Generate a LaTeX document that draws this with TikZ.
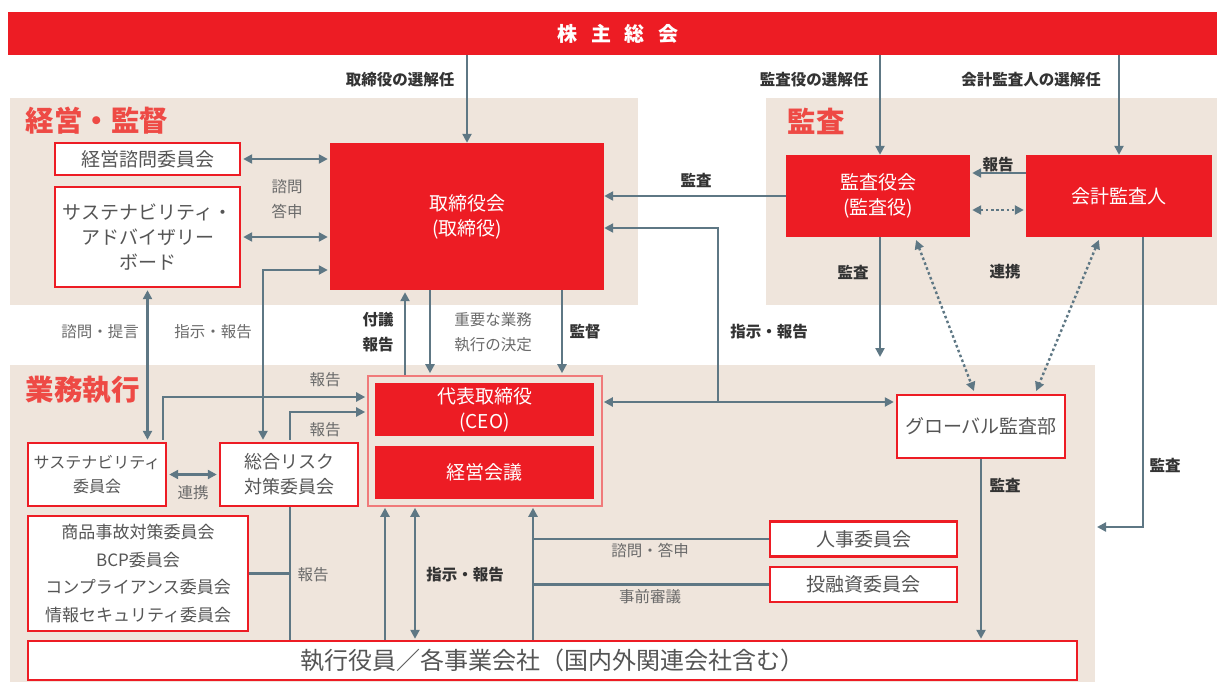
\documentclass[tikz,border=0pt]{standalone}
\usepackage{fontspec}
\newfontfamily\jp{Noto Sans CJK JP}
\usetikzlibrary{arrows.meta}
\definecolor{jred}{HTML}{ED1C24}
\definecolor{jtitle}{HTML}{EE4A45}
\definecolor{panelc}{HTML}{EFE5DC}
\definecolor{linec}{HTML}{5E7784}
\definecolor{txtgray}{HTML}{555555}
\definecolor{lblgray}{HTML}{6A6A6A}
\definecolor{lbldark}{HTML}{333333}
\definecolor{groupc}{HTML}{F07A7A}
\tikzset{
  box/.style={draw=jred, line width=2.4pt, fill=white, inner sep=0pt, align=center,
    text=txtgray, font=\jp\fontsize{19}{25}\selectfont},
  redbox/.style={fill=jred, inner sep=0pt, align=center, text=white,
    font=\jp\fontsize{19}{25}\selectfont},
  paneltitle/.style={anchor=west, text=jtitle, font=\jp\bfseries\fontsize{28.5}{30}\selectfont},
  lbl/.style={text=lblgray, align=center, font=\jp\fontsize{15.5}{25}\selectfont},
  lblb/.style={text=lbldark, align=center, font=\jp\bfseries\fontsize{15.5}{25}\selectfont},
  conn/.style={draw=linec, line width=2.4pt},
  arr/.style={conn, -{Triangle[length=9pt,width=9pt]}},
  biarr/.style={conn, {Triangle[length=9pt,width=9pt]}-{Triangle[length=9pt,width=9pt]}},
  dotarr/.style={biarr, dash pattern=on 2.6pt off 2.6pt}
}
\begin{document}
\begin{tikzpicture}[x=1pt, y=-1pt, line join=miter]
\useasboundingbox (0,0) rectangle (1217,682);
% panels
\fill[panelc] (10,98) rectangle (638,305);
\fill[panelc] (766,98) rectangle (1217,305);
\fill[panelc] (10,365) rectangle (1095,682);
\node[paneltitle] (t1) at (22,121) {経営・監督};
\node[paneltitle] (t2) at (784,121) {監査};
\node[paneltitle] (t3) at (22,390) {業務執行};

% general meeting
\node[redbox, minimum width=1209pt, minimum height=43pt] (gm) at (612.5,33.5) {};
\node[text=white, inner sep=0pt, font=\jp\bfseries\fontsize{20}{25}\selectfont]
  (gmtext) at (618,33.5) {株\hspace{13.5pt}主\hspace{13.5pt}総\hspace{13.5pt}会};

% boxes
\node[box, minimum width=185pt, minimum height=32pt] (adv) at (147.5,159) {経営諮問委員会};
\node[box, minimum width=185pt, minimum height=100pt] (sab) at (147.5,237) {サステナビリティ・\\アドバイザリー\\ボード};
\node[redbox, minimum width=274pt, minimum height=147pt] (board) at (467,216.5) {取締役会\\(取締役)};
\node[redbox, minimum width=184pt, minimum height=82pt] (kansa) at (878,196) {監査役会\\(監査役)};
\node[redbox, minimum width=186pt, minimum height=82pt] (kaikei) at (1119,196) {会計監査人};
\node[draw=groupc, line width=1.6pt, fill=panelc, minimum width=234pt, minimum height=130pt] (execbox) at (485,441) {};
\node[redbox, minimum width=219pt, minimum height=53pt] (ceo) at (484.5,409.5) {代表取締役\\(CEO)};
\node[redbox, minimum width=219pt, minimum height=53pt] (keiei) at (484.5,472.5) {経営会議};
\node[box, minimum width=168pt, minimum height=63pt] (gaudit) at (981,426.5) {グローバル監査部};
\node[box, minimum width=138pt, minimum height=63pt, font=\jp\fontsize{16}{24}\selectfont] (sc) at (97,474.5) {サステナビリティ\\委員会};
\node[box, minimum width=138pt, minimum height=63pt, font=\jp\fontsize{18}{25}\selectfont] (risk) at (289,474.5) {総合リスク\\対策委員会};
\node[box, minimum width=220pt, minimum height=115pt, font=\jp\fontsize{17}{27.7}\selectfont] (misc) at (138,573.5) {商品事故対策委員会\\BCP委員会\\コンプライアンス委員会\\情報セキュリティ委員会};
\node[box, minimum width=187pt, minimum height=35pt] (hr) at (863.5,539) {人事委員会};
\node[box, minimum width=187pt, minimum height=35pt] (inv) at (863.5,584.5) {投融資委員会};
\node[box, minimum width=1049pt, minimum height=39pt, font=\jp\fontsize{24}{25}\selectfont] (officers) at (552.5,660.5) {執行役員／各事業会社（国内外関連会社含む）};

% turning points and columns
\coordinate (rk) at (263,270);
\coordinate (sr) at (163,397);
\coordinate (rr) at (290,412);
\coordinate (c385) at (385,0);
\coordinate (c405) at (405,0);
\coordinate (c415) at (415,0);
\coordinate (c430) at (430,0);
\coordinate (c533) at (533,0);
\coordinate (c562) at (562,0);
\coordinate (ja) at (718,228);
\coordinate (jb) at (718,402);
\coordinate (kk) at (0,173);
\coordinate (kd) at (0,210);
\coordinate (ke) at (880,357);
\coordinate (d1) at (915,0);
\coordinate (d2) at (975,0);
\coordinate (d3) at (1100,0);
\coordinate (d4) at (1035,0);
\coordinate (ka) at (1143,527);
\coordinate (kb) at (1097,527);

% connectors
\draw[arr] (gm.south -| board.north) -- (board.north);
\draw[arr] (gm.south -| ke) -- (kansa.north -| ke);
\draw[arr] (gm.south -| kaikei.north) -- (kaikei.north);
\draw[biarr, shorten <=2pt, shorten >=2pt] (adv.east) -- (adv.east -| board.west);
\draw[biarr, shorten <=2pt, shorten >=2pt] (sab.east) -- (sab.east -| board.west);
\draw[biarr, shorten <=2pt, shorten >=2pt] (risk.north -| rk) -- (rk) -- (rk -| board.west);
\draw[biarr, shorten <=2pt, shorten >=2pt] (sab.south) -- (sab.south |- sc.north);
\draw[biarr, shorten <=2pt, shorten >=2pt] (sc.east) -- (risk.west);
\draw[arr, shorten <=2pt, shorten >=2pt] (sc.north -| sr) -- (sr) -- (sr -| execbox.west);
\draw[arr, shorten <=2pt, shorten >=2pt] (risk.north -| rr) -- (rr) -- (rr -| execbox.west);
\draw[conn] (misc.east) -- (misc.east -| rr);
\draw[conn] (risk.south -| rr) -- (officers.north -| rr);
\draw[arr, shorten >=2pt] (execbox.north -| c405) -- (board.south -| c405);
\draw[arr, shorten >=2pt] (board.south -| c430) -- (execbox.north -| c430);
\draw[arr, shorten >=2pt] (board.south -| c562) -- (execbox.north -| c562);
\draw[arr] (kansa.west) -- (kansa.west -| board.east);
\draw[biarr, shorten <=1pt, shorten >=2pt] (jb -| execbox.east) -- (jb -| gaudit.west);
\draw[arr] (jb) -- (ja) -- (ja -| board.east);
\draw[arr, shorten >=2pt] (kaikei.west |- kk) -- (kansa.east |- kk);
\draw[dotarr, shorten <=2pt, shorten >=2pt] (kansa.east |- kd) -- (kaikei.west |- kd);
\draw[arr] (kansa.south -| ke) -- (ke);
\draw[dotarr, shorten <=3pt, shorten >=3pt] (kansa.south -| d1) -- (gaudit.north -| d2);
\draw[dotarr, shorten <=3pt, shorten >=3pt] (kaikei.south -| d3) -- (gaudit.north -| d4);
\draw[arr] (kaikei.south -| ka) -- (ka) -- (kb);
\draw[arr, shorten >=1pt] (gaudit.south) -- (gaudit.south |- officers.north);
\draw[arr, shorten >=1pt] (officers.north -| c385) -- (execbox.south -| c385);
\draw[biarr, shorten <=1pt, shorten >=1pt] (officers.north -| c415) -- (execbox.south -| c415);
\draw[arr, shorten >=1pt] (officers.north -| c533) -- (execbox.south -| c533);
\draw[conn] (hr.west -| c533) -- (hr.west);
\draw[conn] (inv.west -| c533) -- (inv.west);

% labels
\node[lblb] (l1) at (400,80) {取締役の選解任};
\node[lblb] (l2) at (814,80) {監査役の選解任};
\node[lblb] (l3) at (1031,80) {会計監査人の選解任};
\node[lbl] (l4) at (287,199) {諮問\\答申};
\node[lblb] (l5) at (696,180) {監査};
\node[lblb] (l6) at (998,165) {報告};
\node[lblb] (l7) at (853,272) {監査};
\node[lblb] (l8) at (1005,272) {連携};
\node[lbl] (l9) at (100,332) {諮問・提言};
\node[lbl] (l10) at (213,332) {指示・報告};
\node[lblb] (l11) at (378,332) {付議\\報告};
\node[lbl] (l12) at (493,332) {重要な業務\\執行の決定};
\node[lblb] (l13) at (585,332) {監督};
\node[lblb] (l14) at (769,332) {指示・報告};
\node[lbl] (l15) at (325,380) {報告};
\node[lbl] (l16) at (325,430) {報告};
\node[lbl] (l17) at (193,493) {連携};
\node[lbl] (l18) at (313,575) {報告};
\node[lblb] (l19) at (465,575) {指示・報告};
\node[lbl] (l20) at (650,551) {諮問・答申};
\node[lbl] (l21) at (650,597) {事前審議};
\node[lblb] (l22) at (1005,485) {監査};
\node[lblb] (l23) at (1165,465) {監査};
\end{tikzpicture}
\end{document}
